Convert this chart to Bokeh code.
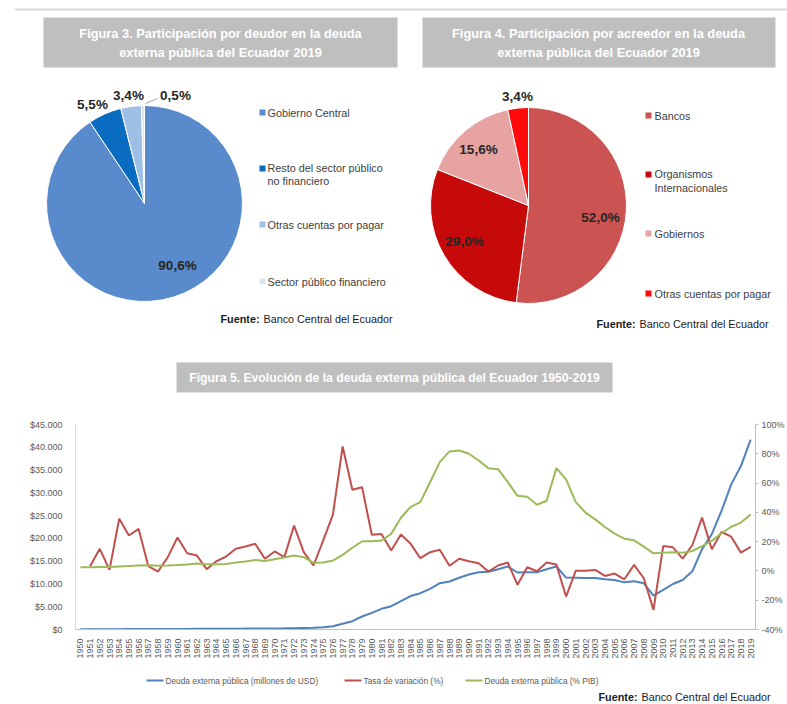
import math
import numpy as np
from bokeh.plotting import figure
from bokeh.models import Range1d, FactorRange, LinearAxis, FixedTicker, ColumnDataSource
from bokeh.layouts import column
from bokeh.embed import file_html
from bokeh.resources import INLINE
from bokeh.core.properties import value

# ---------------- data ----------------
years = [str(y) for y in range(1950, 2020)]

deuda_usd = [60, 65, 70, 75, 80, 90, 100, 105, 110, 115,
             125, 135, 145, 150, 160, 170, 185, 200, 220, 230,
             240, 260, 290, 330, 370, 500, 720, 1250, 1820, 2850,
             3660, 4540, 5120, 6220, 7350, 7970, 8930, 10160, 10540, 11350,
             12070, 12580, 12660, 13240, 13830, 12510, 12580, 12580, 13240, 13830,
             11400, 11350, 11300, 11300, 11010, 10860, 10350, 10570, 10130, 7440,
             8680, 9990, 10860, 12760, 17640, 20920, 26030, 31860, 35870, 41700]

tasa_var = [float("nan"), 3.2, 15.1, 0.7, 35.6, 24.2, 28.7, 3.2, -0.4, 9.4,
            22.8, 12.1, 10.5, 1.2, 6.6, 9.8, 15.1, 16.7, 18.5, 8.3,
            13.3, 9.4, 31.0, 12.8, 3.7, 20.8, 38.5, 85.0, 55.4, 57.2,
            24.7, 25.3, 13.9, 24.9, 18.5, 8.7, 12.8, 14.4, 3.5, 8.3,
            6.6, 5.3, -0.4, 3.7, 5.7, -9.5, 2.5, -0.2, 5.7, 4.4,
            -17.5, 0.2, 0.2, 0.7, -3.4, -1.8, -5.7, 4.1, -5.0, -26.6,
            17.0, 16.1, 8.4, 17.7, 36.4, 14.8, 26.6, 23.4, 12.5, 16.4]

deuda_pib = [2.5, 2.5, 2.6, 2.7, 3.0, 3.3, 3.7, 3.8, 3.6, 3.7,
             4.0, 4.4, 5.0, 4.6, 4.5, 4.7, 5.8, 6.4, 7.4, 6.8,
             8.0, 9.2, 10.5, 9.4, 5.5, 5.7, 7.1, 11.0, 15.8, 20.3,
             20.3, 20.8, 25.3, 36.3, 43.8, 47.0, 60.6, 74.3, 81.6, 82.2,
             80.0, 75.4, 70.2, 69.5, 60.6, 51.3, 50.6, 45.2, 47.9, 70.2,
             62.5, 47.0, 39.8, 35.2, 30.0, 25.5, 22.0, 20.9, 16.6, 12.0,
             12.5, 12.7, 12.5, 13.6, 17.0, 20.5, 25.7, 30.2, 33.0, 38.6]

series_names = ["Deuda externa pública (millones de USD)", "Tasa de variación (%)",
                "Deuda externa pública (% PIB)"]

deudor_cat = ["Gobierno Central", "Resto del sector público\nno financiero",
              "Otras cuentas por pagar", "Sector público financiero"]
deudor_pct = [90.6, 5.5, 3.4, 0.5]

acreedor_cat = ["Bancos", "Organismos\nInternacionales", "Gobiernos", "Otras cuentas por pagar"]
acreedor_pct = [52.0, 29.0, 15.6, 3.4]

left_ticks = [0, 5000, 10000, 15000, 20000, 25000, 30000, 35000, 40000, 45000]
left_labels = ["$0", "$5.000", "$10.000", "$15.000", "$20.000", "$25.000",
               "$30.000", "$35.000", "$40.000", "$45.000"]
right_ticks = [-40, -20, 0, 20, 40, 60, 80, 100]
right_labels = ["-40%", "-20%", "0%", "20%", "40%", "60%", "80%", "100%"]

titles = ["Figura 3. Participación por deudor en la deuda", "externa pública del Ecuador 2019",
          "Figura 4. Participación por acreedor en la deuda", "externa pública del Ecuador 2019"]
title5 = ["Figura 5. Evolución de la deuda externa pública del Ecuador 1950-2019"]
fuente = ["Fuente:", "Banco Central del Ecuador"]

# ---------------- styles ----------------
FONT = "Liberation Sans"
TFONT = "Liberation Sans"
W = 787
TOP_H = 396
P3_H = 270
P4_H = 36
deudor_colors = ["#588ACC", "#0A6CC0", "#9EC0E6", "#DCE6F2"]
acreedor_colors = ["#CB5452", "#C60A0A", "#E6A3A2", "#FF0A0A"]
line_colors = ["#4F81BD", "#C0504D", "#9BBB59"]


def fmt_pct(v):
    return ("%.1f" % v).replace(".", ",") + "%"


# ---------------- top figure (pies + titles) ----------------
top = figure(width=W, height=TOP_H, x_range=Range1d(0, W), y_range=Range1d(0, TOP_H),
             x_axis_location=None, y_axis_location=None, toolbar_location=None,
             output_backend="svg", min_border=0, outline_line_color=None, title=None,
             frame_align=False)
top.grid.visible = False


def ty(py):
    return TOP_H - py


top.segment(x0=[14], y0=[ty(9)], x1=[787], y1=[ty(9)], line_color="#D9D9D9", line_width=2)

top.quad(left=[43, 422, 176], right=[397, 775, 612],
         top=[ty(17), ty(17), ty(362)], bottom=[ty(67), ty(67), ty(392)],
         fill_color="#BFBFBF", line_color=None)
top.text(x=[220, 220, 598, 598], y=[ty(33), ty(52), ty(33), ty(52)], text=titles,
         text_font=value(TFONT), text_font_style="bold", text_font_size="12.8px",
         text_color="white", text_align="center", text_baseline="middle")
top.text(x=[394], y=[ty(377)], text=title5,
         text_font=value(TFONT), text_font_style="bold", text_font_size="12.2px",
         text_color="white", text_align="center", text_baseline="middle")


def pie(p, cx, cy, r, pcts, colors, lab_off, lab_size):
    fr = np.array(pcts, dtype=float) / 100.0
    cum = np.concatenate([[0.0], np.cumsum(fr)])
    start = np.pi / 2 - cum[1:] * 2 * np.pi
    end = np.pi / 2 - cum[:-1] * 2 * np.pi
    src = ColumnDataSource(dict(x=[cx] * len(pcts), y=[cy] * len(pcts), s=start, e=end, c=colors))
    p.wedge(x="x", y="y", radius=r, start_angle="s", end_angle="e", fill_color="c",
            line_color="white", line_width=1, source=src)
    p.text(x=[cx + d[0] for d in lab_off], y=[cy - d[1] for d in lab_off],
           text=[fmt_pct(v) for v in pcts], text_font=value(FONT), text_font_style="bold",
           text_font_size=lab_size, text_color="#262626", text_align="center", text_baseline="middle")


pie(top, 144, ty(203), 98, deudor_pct, deudor_colors,
    [(33, 62), (-52, -99), (-16, -108), (31, -108)], "13.5px")
top.segment(x0=[157], y0=[ty(98)], x1=[145], y1=[ty(103)], line_color="#A6A6A6", line_width=1)
pie(top, 528, ty(205), 98, acreedor_pct, acreedor_colors,
    [(72, 12), (-64, 36), (-50, -56), (-11, -109)], "13.5px")


def legend(p, xs, xt, ys_sq, ys_tx, labels, colors):
    p.scatter(x=[xs] * len(labels), y=[ty(v) for v in ys_sq], marker="square", size=6,
              fill_color=colors, line_color=None)
    p.text(x=[xt] * len(labels), y=[ty(v) for v in ys_tx], text=labels, text_font=value(FONT),
           text_font_size="10.8px", text_color="#404040", text_align="left",
           text_baseline="middle", text_line_height=1.1)


legend(top, 262, 267, [112, 168, 224, 281], [112, 174, 224, 281], deudor_cat, deudor_colors)
legend(top, 648, 654, [115, 174, 233, 293], [115, 180.5, 233, 293], acreedor_cat, acreedor_colors)


def fuente_text(p, xr, y):
    p.text(x=[xr - 133], y=[y], text=[fuente[0]], text_font=value(FONT), text_font_style="bold",
           text_font_size="10.8px", text_color="#1a1a1a", text_align="right", text_baseline="middle")
    p.text(x=[xr], y=[y], text=[fuente[1]], text_font=value(FONT),
           text_font_size="10.8px", text_color="#1a1a1a", text_align="right", text_baseline="middle")


fuente_text(top, 392, ty(318))
fuente_text(top, 768, ty(323))

# ---------------- line chart ----------------
p3 = figure(width=W, height=P3_H, x_range=FactorRange(factors=years), y_range=Range1d(0, 45000),
            toolbar_location=None, output_backend="svg", title=None,
            min_border_left=75, min_border_right=32, min_border_top=28, min_border_bottom=37,
            outline_line_color=None, frame_align=False)
p3.grid.visible = False
p3.extra_y_ranges = {"pct": Range1d(-40, 100)}

ly = p3.yaxis[0]
ly.ticker = FixedTicker(ticks=left_ticks)
ly.major_label_overrides = {t: l for t, l in zip(left_ticks, left_labels)}
ly.axis_line_color = "#D9D9D9"
ly.major_tick_line_color = None
ly.minor_tick_line_color = None
ly.major_label_text_font = FONT
ly.major_label_text_font_size = "9px"
ly.major_label_text_color = "#595959"
ly.major_label_standoff = 7

ry = LinearAxis(y_range_name="pct", ticker=FixedTicker(ticks=right_ticks),
                major_label_overrides={t: l for t, l in zip(right_ticks, right_labels)})
ry.axis_line_color = "#BFBFBF"
ry.major_tick_line_color = "#BFBFBF"
ry.major_tick_in = 0
ry.major_tick_out = 3
ry.minor_tick_line_color = None
ry.major_label_text_font = FONT
ry.major_label_text_font_size = "9px"
ry.major_label_text_color = "#595959"
ry.major_label_standoff = 3
ry.axis_label_standoff = 0
p3.add_layout(ry, "right")

xa = p3.xaxis[0]
xa.major_label_orientation = math.pi / 2
xa.axis_line_color = "#BFBFBF"
xa.major_tick_line_color = None
xa.minor_tick_line_color = None
xa.major_label_text_font = FONT
xa.major_label_text_font_size = "9px"
xa.major_label_text_color = "#595959"
xa.major_label_standoff = 3

p3.line(years, deuda_usd, line_color=line_colors[0], line_width=2)
p3.line(years, tasa_var, line_color=line_colors[1], line_width=2, y_range_name="pct")
p3.line(years, deuda_pib, line_color=line_colors[2], line_width=2, y_range_name="pct")

# ---------------- bottom strip (legend + source) ----------------
P4_TOP = TOP_H + P3_H
p4 = figure(width=W, height=P4_H, x_range=Range1d(0, W), y_range=Range1d(0, P4_H),
            x_axis_location=None, y_axis_location=None, toolbar_location=None,
            output_backend="svg", min_border=0, outline_line_color=None, title=None,
            frame_align=False)
p4.grid.visible = False


def by(py):
    return P4_TOP + P4_H - py


p4.segment(x0=[146, 344, 465], y0=[by(680)] * 3, x1=[163, 361, 482], y1=[by(680)] * 3,
           line_color=line_colors, line_width=2)
p4.text(x=[165, 363, 484], y=[by(680)] * 3, text=series_names, text_font=value(FONT),
        text_font_size="8.3px", text_color="#595959", text_align="left", text_baseline="middle")
fuente_text(p4, 770, by(696))

layout = column(top, p3, p4)
open("out.html", "w").write(file_html(layout, INLINE))
